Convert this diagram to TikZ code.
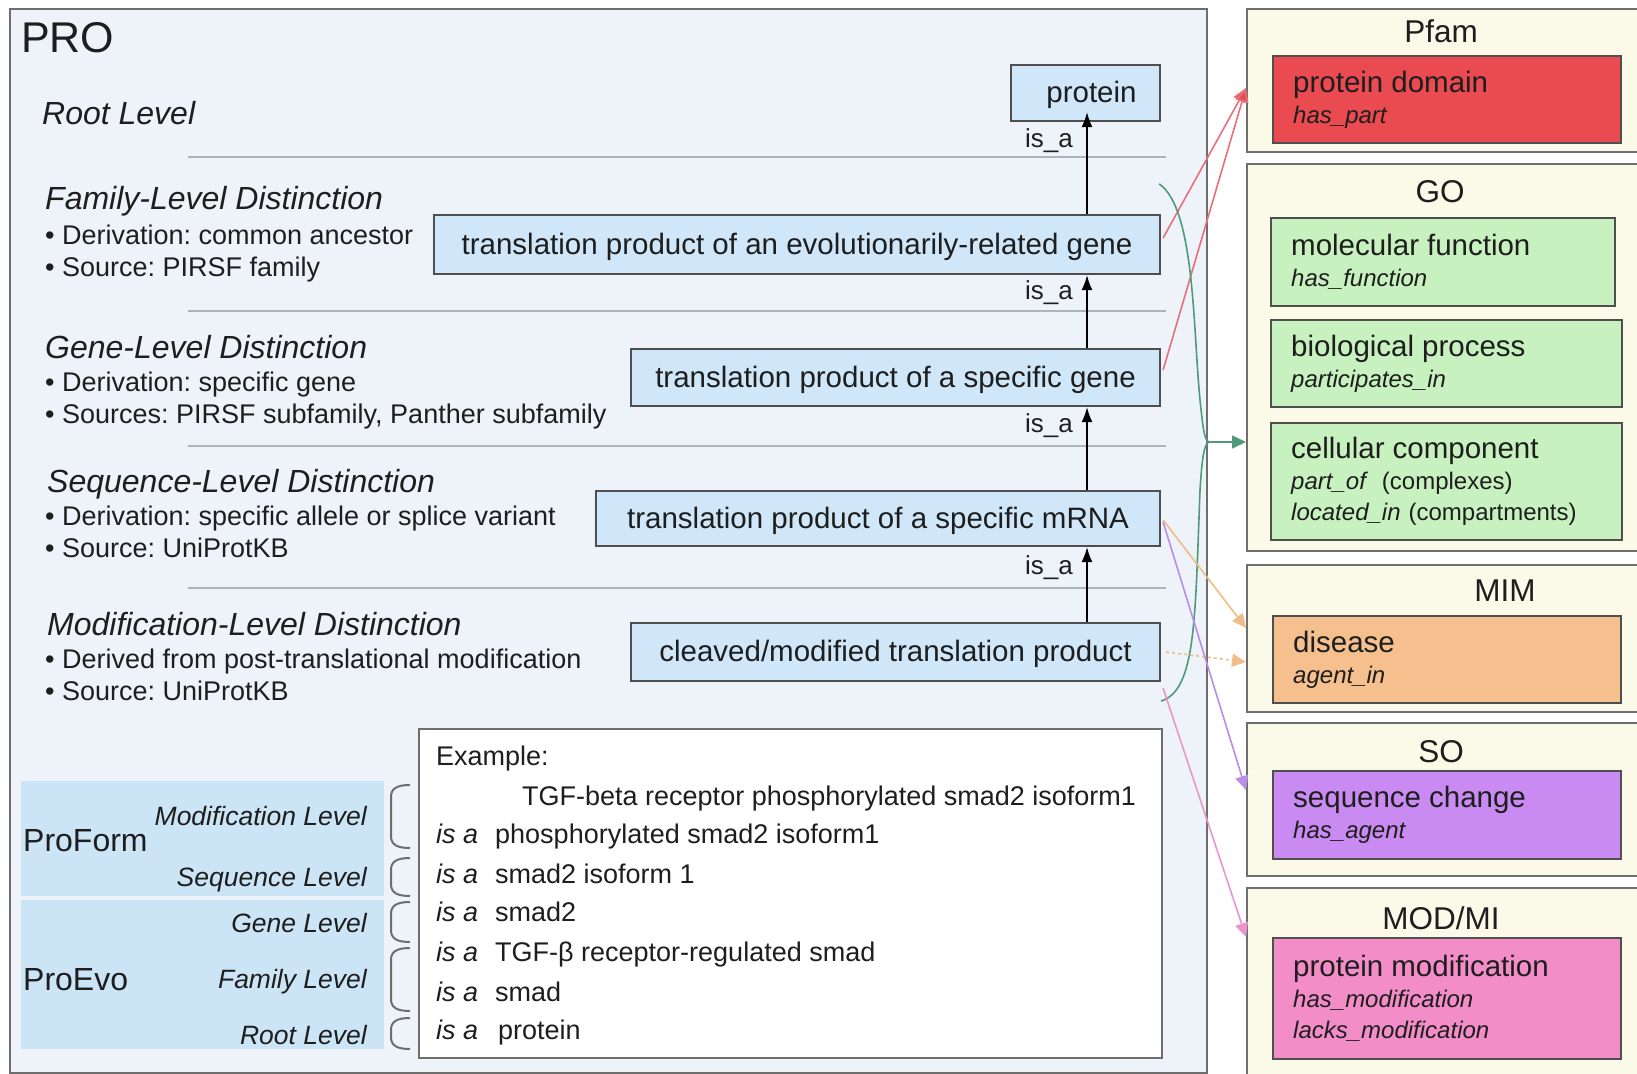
\documentclass[tikz,border=0pt]{standalone}
\usepackage{fontspec}
\setmainfont{Liberation Sans}
\usetikzlibrary{arrows.meta,calc}
\frenchspacing
\definecolor{probg}{HTML}{EEF3FA}
\definecolor{nodeblue}{HTML}{CFE7F8}
\definecolor{bandblue}{HTML}{CCE5F6}
\definecolor{cream}{HTML}{FBFAE8}
\definecolor{bordergray}{HTML}{4F4F4F}
\definecolor{outergray}{HTML}{6E6E6E}
\definecolor{sepgray}{HTML}{AEB3BA}
\definecolor{cred}{HTML}{EA4B50}
\definecolor{cgreen}{HTML}{C8F1C0}
\definecolor{corange}{HTML}{F5C08D}
\definecolor{cpurple}{HTML}{C98BF2}
\definecolor{cpink}{HTML}{F28DC8}
\definecolor{lred}{HTML}{E8707A}
\definecolor{lgreen}{HTML}{4F9A78}
\definecolor{lorange}{HTML}{F0BC88}
\definecolor{lpurple}{HTML}{B88EE6}
\definecolor{lpink}{HTML}{EC94CC}
\definecolor{txt}{HTML}{1E1E1E}
\newcommand\myfs[1]{\fontsize{#1}{#1}\selectfont}
\newcommand\mainlbl[1]{{\fontsize{29.5}{31}\selectfont\upshape #1}}
\newcommand\isaword{\makebox[59pt][l]{\itshape is a}}
\newcommand\mybrk[2]{\draw[brk] (410,#1) .. controls (396,#1) and (391,{#1+4}) .. (391,{#1+12}) -- (391,{#2-12}) .. controls (391,{#2-4}) and (396,#2) .. (410,#2);}
\tikzset{
  pnode/.style={draw=bordergray, line width=2.2pt, fill=nodeblue, inner sep=0pt,
    font=\myfs{29.5}, text=txt, text height=21pt, text depth=2pt},
  txtnode/.style={inner sep=0pt, text=txt},
  head/.style={txtnode, anchor=west, font=\myfs{32}\itshape, text height=23pt, text depth=0pt},
  bul/.style={txtnode, anchor=west, font=\myfs{27}, text height=19.5pt, text depth=0pt},
  exl/.style={txtnode, anchor=west, font=\myfs{27}, text height=19.5pt, text depth=0pt},
  lvl/.style={txtnode, anchor=east, font=\myfs{26.5}\itshape, text height=19pt, text depth=0pt},
  isalbl/.style={txtnode, anchor=east, font=\myfs{26}, text height=17pt, text depth=0pt},
  title/.style={txtnode, font=\myfs{31.5}, text height=22.5pt, text depth=0pt},
  sep/.style={draw=sepgray, line width=1.6pt},
  isarrow/.style={draw=black, line width=1.8pt, -{Latex[length=15pt,width=11pt]}},
  outerbox/.style={draw=outergray, line width=2.4pt, fill=cream, anchor=north west, inner sep=0pt},
  innerbox/.style={draw=bordergray, line width=2.4pt, anchor=north west, inner xsep=20pt,
    inner ysep=0pt, align=left, text=txt, font=\fontsize{24}{31}\selectfont\itshape},
  brk/.style={draw=outergray, line width=2pt},
  conn/.style={line width=1.6pt},
}
\begin{document}
\begin{tikzpicture}[x=1pt,y=-1pt]
\useasboundingbox (0,0) rectangle (1637,1073);
\clip (0,0) rectangle (1637,1073);
\fill[white] (0,0) rectangle (1637,1073);

% ---------------- PRO panel
\node[draw=outergray, line width=2.4pt, fill=probg, anchor=north west, inner sep=0pt,
      minimum width=1197, minimum height=1064] (pro) at (9,8) {};
\node[txtnode, anchor=west, font=\myfs{43}, text height=31pt, text depth=0pt] (protitle) at (21,37) {PRO};

% separators
\draw[sep] (188,157) -- (1166,157);
\draw[sep] (188,311) -- (1166,311);
\draw[sep] (188,446) -- (1166,446);
\draw[sep] (188,588) -- (1166,588);

% level texts
\node[head] (hroot) at (42,113) {Root Level};
\node[head] (hfam) at (45,198) {Family-Level Distinction};
\node[bul] (bfam1) at (45,235) {• Derivation: common ancestor};
\node[bul] (bfam2) at (45,267) {• Source: PIRSF family};
\node[head] (hgene) at (45,347) {Gene-Level Distinction};
\node[bul] (bgene1) at (45,382) {• Derivation: specific gene};
\node[bul] (bgene2) at (45,414) {• Sources: PIRSF subfamily, Panther subfamily};
\node[head] (hseq) at (47,481) {Sequence-Level Distinction};
\node[bul] (bseq1) at (45,516) {• Derivation: specific allele or splice variant};
\node[bul] (bseq2) at (45,548) {• Source: UniProtKB};
\node[head] (hmod) at (47,624) {Modification-Level Distinction};
\node[bul] (bmod1) at (45,659) {• Derived from post-translational modification};
\node[bul] (bmod2) at (45,691) {• Source: UniProtKB};

% hierarchy nodes
\node[pnode, minimum width=149, minimum height=56] (prot) at (1085.5,93) {\hspace*{12pt}protein};
\node[pnode, minimum width=726, minimum height=59] (fam) at (797,244.5) {translation product of an evolutionarily-related gene};
\node[pnode, minimum width=529, minimum height=57] (gene) at (895.5,377.5) {translation product of a specific gene};
\node[pnode, minimum width=564, minimum height=55] (mrna) at (878,518.5) {translation product of a specific mRNA};
\node[pnode, minimum width=529, minimum height=58] (cleav) at (895.5,652) {cleaved/modified translation product};

\coordinate (ax) at (1087,0);
\draw[isarrow] (fam.north -| ax) -- ($(prot.south -| ax)+(0,-10)$);
\draw[isarrow] (gene.north -| ax) -- (fam.south -| ax);
\draw[isarrow] (mrna.north -| ax) -- (gene.south -| ax);
\draw[isarrow] (cleav.north -| ax) -- (mrna.south -| ax);
\node[isalbl] (isa1) at (1073,139) {is\_a};
\node[isalbl] (isa2) at (1073,291) {is\_a};
\node[isalbl] (isa3) at (1073,424) {is\_a};
\node[isalbl] (isa4) at (1073,566) {is\_a};

% ---------------- bottom-left legend
\node[fill=bandblue, anchor=north west, inner sep=0pt, minimum width=363, minimum height=115] (bandform) at (21,781) {};
\node[fill=bandblue, anchor=north west, inner sep=0pt, minimum width=363, minimum height=149] (bandevo) at (21,900) {};
\node[txtnode, anchor=west, font=\myfs{32}, text height=23pt, text depth=0pt] (proform) at (23,840) {ProForm};
\node[txtnode, anchor=west, font=\myfs{32}, text height=23pt, text depth=0pt] (proevo) at (23,979) {ProEvo};
\node[lvl] (lmod) at (367,816) {Modification Level};
\node[lvl] (lseq) at (367,877) {Sequence Level};
\node[lvl] (lgene) at (367,923) {Gene Level};
\node[lvl] (lfam) at (367,979) {Family Level};
\node[lvl] (lroot) at (367,1035) {Root Level};
\mybrk{785}{848}
\mybrk{858}{896}
\mybrk{902}{942}
\mybrk{948}{1011}
\mybrk{1018}{1049}

% example box
\node[draw=outergray, line width=2.4pt, fill=white, anchor=north west, inner sep=0pt,
      minimum width=743, minimum height=329] (ex) at (418,728) {};
\node[exl] (ex0) at (436,756) {Example:};
\node[exl] (ex1) at (522,796) {TGF-beta receptor phosphorylated smad2 isoform1};
\node[exl] (ex2) at (436,834) {\isaword phosphorylated smad2 isoform1};
\node[exl] (ex3) at (436,874) {\isaword smad2 isoform 1};
\node[exl] (ex4) at (436,912) {\isaword smad2};
\node[exl] (ex5) at (436,952) {\isaword TGF-β receptor-regulated smad};
\node[exl] (ex6) at (436,992) {\isaword smad};
\node[exl] (ex7) at (436,1030) {\isaword\hspace{3pt}protein};

% ---------------- right-hand ontologies
\node[outerbox, minimum width=420, minimum height=143] (pfamO) at (1246,8) {};
\node[title] (pfamT) at (1441,31) {Pfam};
\node[innerbox, fill=cred, minimum width=348, minimum height=87, text width=308] (pdom) at (1272,55)
  {\mainlbl{protein domain}\\has\_part};

\node[outerbox, minimum width=420, minimum height=387] (goO) at (1246,163) {};
\node[title] (goT) at (1440,191) {GO};
\node[innerbox, fill=cgreen, minimum width=344, minimum height=88, text width=304] (mf) at (1270,217)
  {\mainlbl{molecular function}\\has\_function};
\node[innerbox, fill=cgreen, minimum width=351, minimum height=87, text width=311] (bp) at (1270,319)
  {\mainlbl{biological process}\\participates\_in};
\node[innerbox, fill=cgreen, minimum width=351, minimum height=117, text width=311] (cc) at (1270,422)
  {\mainlbl{cellular component}\\part\_of\ \ {\upshape (complexes)}\\located\_in {\upshape (compartments)}};

\node[outerbox, minimum width=420, minimum height=147] (mimO) at (1246,564) {};
\node[title] (mimT) at (1505,590) {MIM};
\node[innerbox, fill=corange, minimum width=348, minimum height=87, text width=308] (dis) at (1272,615)
  {\mainlbl{disease}\\agent\_in};

\node[outerbox, minimum width=420, minimum height=153] (soO) at (1246,722) {};
\node[title] (soT) at (1441,751) {SO};
\node[innerbox, fill=cpurple, minimum width=348, minimum height=88, text width=308] (sq) at (1272,770)
  {\mainlbl{sequence change}\\has\_agent};

\node[outerbox, minimum width=420, minimum height=200] (modO) at (1246,887) {};
\node[title] (modT) at (1441,918) {MOD/MI};
\node[innerbox, fill=cpink, minimum width=348, minimum height=121, text width=308] (pm) at (1272,937)
  {\mainlbl{protein modification}\\has\_modification\\lacks\_modification};

% ---------------- cross connectors
\draw[conn, draw=lred, -{Triangle[length=14pt,width=13pt,fill=cred]}] ($(fam.east)+(2,-6.5)$) -- ($(pfamO.north west)+(0,80)$);
\draw[conn, draw=lred, -{Triangle[length=14pt,width=13pt,fill=cred]}] ($(gene.east)+(2,-7.5)$) -- ($(pfamO.north west)+(0,80)$);

\coordinate (gtip) at (1209,442);
\draw[lgreen, line width=1.6pt] ($(fam.north east)+(-2,-30)$) .. controls (1195,208) and (1193,330) .. (1200,400)
   .. controls (1203,428) and (1204,440) .. (gtip);
\draw[lgreen, line width=1.6pt] (gtip) .. controls (1204,444) and (1202,458) .. (1200,490)
   .. controls (1195,620) and (1196,690) .. ($(cleav.south east)+(0,19)$);
\draw[conn, draw=lgreen, -{Triangle[length=14pt,width=13pt,fill=lgreen]}] (gtip) -- ($(goO.north west)+(0,279)$);

\draw[conn, draw=lorange, -{Triangle[length=14pt,width=13pt,fill=lorange]}] ($(mrna.east)+(2,1.5)$) -- ($(mimO.north west)+(0,64)$);
\draw[conn, draw=lorange, dashed, -{Triangle[length=14pt,width=13pt,fill=lorange]}] ($(cleav.east)+(5,0)$) -- ($(mimO.north west)+(0,98)$);
\draw[conn, draw=lpurple, -{Triangle[length=14pt,width=13pt,fill=lpurple]}] ($(mrna.east)+(2,3.5)$) -- ($(soO.north west)+(0,68)$);
\draw[conn, draw=lpink, -{Triangle[length=14pt,width=13pt,fill=lpink]}] ($(cleav.south east)+(2,6)$) -- ($(modO.north west)+(0,50)$);
\end{tikzpicture}
\end{document}
